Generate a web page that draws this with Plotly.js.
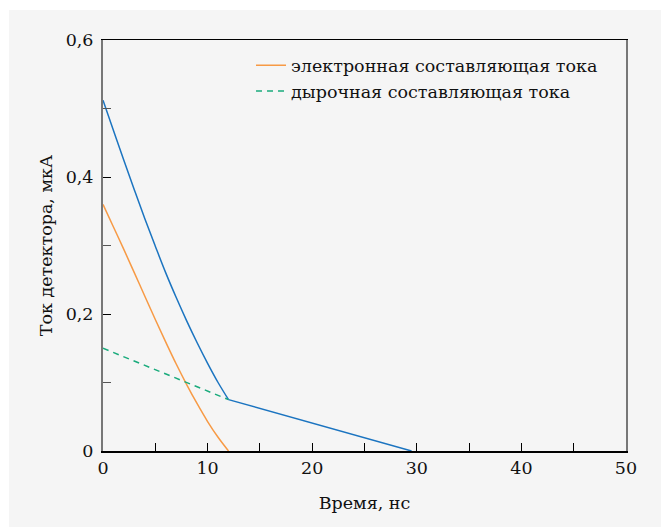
<!DOCTYPE html>
<html>
<head>
<meta charset="utf-8">
<script src="https://cdn.plot.ly/plotly-3.0.1.min.js"></script>
<style>
  html, body { margin: 0; padding: 0; background: #ffffff; width: 661px; height: 527px; overflow: hidden; }
  #chart { position: absolute; left: 9px; top: 10px; width: 652px; height: 517px; }
</style>
</head>
<body>
<div id="chart"></div>
<script>
// Time, ns
const timeCurve = [0, 1, 2, 3, 4, 5, 6, 7, 8, 9, 10, 11, 12];
// Electron component of current, µA
const electronCurrent = [0.360, 0.327, 0.294, 0.260, 0.226, 0.192, 0.159, 0.127, 0.097, 0.069, 0.043, 0.020, 0.000];
// Hole component of current, µA
const holeTime = [0, 12];
const holeCurrent = [0.150, 0.075];
// Total current, µA (curved part, then linear tail)
const totalCurrent = [0.512, 0.468, 0.424, 0.381, 0.339, 0.299, 0.260, 0.224, 0.190, 0.158, 0.128, 0.100, 0.075];
const tailTime = [12, 29.5];
const tailCurrent = [0.075, 0.000];

const seriesNames = ['электронная составляющая тока', 'дырочная составляющая тока'];
const xTickVals = [0, 10, 20, 30, 40, 50];
const xTickText = ['0', '10', '20', '30', '40', '50'];
const yTickVals = [0, 0.2, 0.4, 0.6];
const yTickText = ['0', '0,2', '0,4', '0,6'];
const xTitle = 'Время, нс';
const yTitle = 'Ток детектора, мкА';

const FONT = 'DejaVu Serif, serif';
const FS = 17.5;

const traces = [
  {
    x: timeCurve, y: totalCurrent, mode: 'lines', showlegend: false,
    line: { color: '#1b74c0', width: 1.5, shape: 'spline', smoothing: 1 }, hoverinfo: 'skip'
  },
  {
    x: tailTime, y: tailCurrent, mode: 'lines', showlegend: false,
    line: { color: '#1b74c0', width: 1.5 }, hoverinfo: 'skip'
  },
  {
    x: timeCurve, y: electronCurrent, mode: 'lines', name: seriesNames[0],
    line: { color: '#f79a45', width: 1.5, shape: 'spline', smoothing: 1 }
  },
  {
    x: holeTime, y: holeCurrent, mode: 'lines', name: seriesNames[1],
    line: { color: '#1aab7c', width: 1.5, dash: '6px,5px' }
  }
];

const layout = {
  width: 652, height: 517,
  paper_bgcolor: '#f5f5f5',
  plot_bgcolor: '#f5f5f5',
  margin: { l: 94, r: 35, t: 30, b: 76 },
  font: { family: FONT, size: FS, color: '#111111' },
  separators: ', ',
  showlegend: true,
  legend: {
    x: 0.283, y: 0.982, xanchor: 'left', yanchor: 'top',
    bgcolor: 'rgba(0,0,0,0)', borderwidth: 0,
    font: { family: FONT, size: FS, color: '#111111' },
    traceorder: 'normal', itemwidth: 30, tracegroupgap: 0
  },
  xaxis: {
    range: [0, 50], tickvals: xTickVals, ticktext: xTickText,
    ticks: 'inside', ticklen: 8, tickcolor: '#000000', tickwidth: 1,
    minor: { ticks: 'inside', dtick: 5, ticklen: 8, tickcolor: '#000000', tickwidth: 1 },
    showline: true, linecolor: '#000000', linewidth: 1.5, mirror: true,
    showgrid: false, zeroline: false,
    tickfont: { family: FONT, size: FS, color: '#111111' },
    title: { text: xTitle, font: { family: FONT, size: FS, color: '#111111' }, standoff: 20 }
  },
  yaxis: {
    range: [0, 0.6], tickvals: yTickVals, ticktext: yTickText,
    ticks: 'inside', ticklen: 8, tickcolor: '#000000', tickwidth: 1,
    minor: { ticks: 'inside', tickvals: [0.1, 0.3, 0.5], ticklen: 8, tickcolor: '#555555', tickwidth: 1.5 },
    showline: true, linecolor: '#777777', linewidth: 2, mirror: true,
    showgrid: false, zeroline: false,
    ticklabelstandoff: 4,
    tickfont: { family: FONT, size: FS, color: '#111111' },
    title: { text: yTitle, font: { family: FONT, size: FS, color: '#111111' }, standoff: 9 }
  }
};

Plotly.newPlot('chart', traces, layout, { displayModeBar: false, staticPlot: true });
</script>
</body>
</html>
